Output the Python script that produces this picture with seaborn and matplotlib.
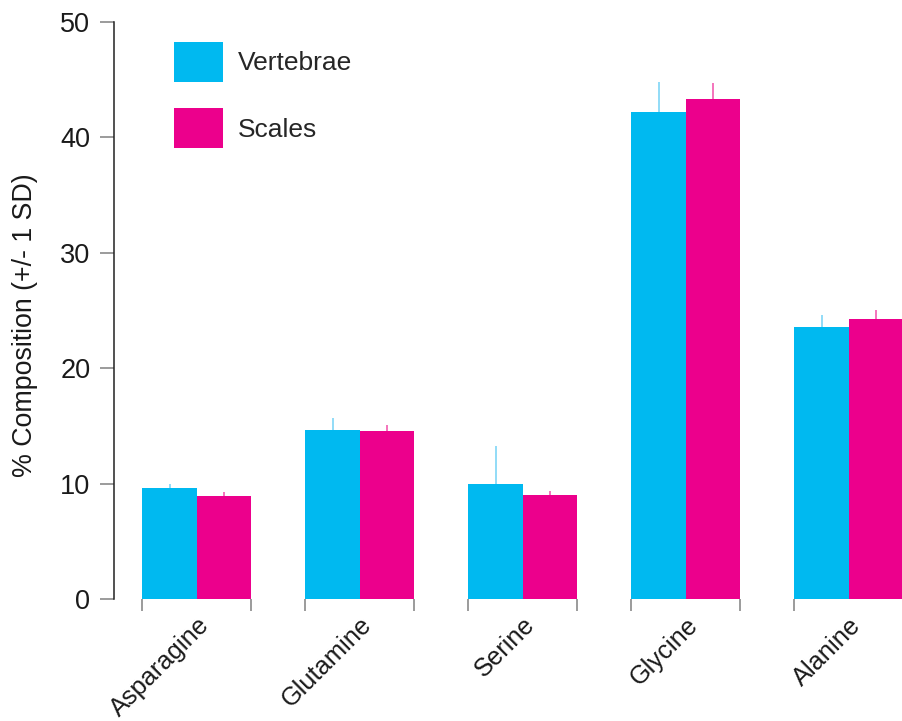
import matplotlib
matplotlib.use("Agg")
import matplotlib.pyplot as plt
from matplotlib.patches import Patch
import seaborn as sns
import pandas as pd

# Mean amino-acid composition (%) and standard deviations
amino_acids = ["Asparagine", "Glutamine", "Serine", "Glycine", "Alanine"]
tissues = ["Vertebrae", "Scales"]
vertebrae_mean = [9.6, 14.65, 9.95, 42.2, 23.6]
vertebrae_sd = [0.35, 1.0, 3.35, 2.6, 1.05]
scales_mean = [8.95, 14.6, 9.05, 43.3, 24.25]
scales_sd = [0.3, 0.45, 0.35, 1.4, 0.8]
y_ticks = [0, 10, 20, 30, 40, 50]

bar_colors = ["#00B9F0", "#EC008C"]
err_colors = ["#7FD6F6", "#F25CB0"]

sns.set_theme(style="white")
plt.rcParams["font.family"] = ["Liberation Sans", "DejaVu Sans"]

df = pd.DataFrame({
    "amino_acid": amino_acids * 2,
    "tissue": [tissues[0]] * len(amino_acids) + [tissues[1]] * len(amino_acids),
    "percent": vertebrae_mean + scales_mean,
})

fig = plt.figure(figsize=(9.03, 7.21), dpi=100)
ax = fig.add_axes([114 / 903, 122 / 721, 789 / 903, 577 / 721])

sns.barplot(
    data=df, x="amino_acid", y="percent", hue="tissue",
    order=amino_acids, hue_order=tissues, palette=bar_colors,
    width=2 / 3, errorbar=None, linewidth=0, saturation=1,
    legend=False, ax=ax,
)

# Upward-only SD whiskers on each bar
for container, sds, col in zip(ax.containers, [vertebrae_sd, scales_sd], err_colors):
    for bar, sd in zip(container, sds):
        xc = bar.get_x() + bar.get_width() / 2
        top = bar.get_height()
        ax.vlines(xc, top, top + sd, color=col, linewidth=1.2, zorder=1)

ax.set_ylim(0, 50)
ax.set_xlim(-0.5076, 4.289)
ax.set_yticks(y_ticks)
ax.set_yticklabels([str(t) for t in y_ticks])

# Spines: only the y axis line is drawn
for side in ["top", "right", "bottom"]:
    ax.spines[side].set_visible(False)
ax.spines["left"].set_color("#222222")
ax.spines["left"].set_linewidth(1.1)

ax.tick_params(axis="y", direction="out", length=10, width=1.1, color="#808080",
               pad=7, labelsize=19.5, labelcolor="#1a1a1a", left=True)

# Group-edge ticks on the x axis, category labels at group centres
half = (2 / 3) / 2
edges = [i + s for i in range(len(amino_acids)) for s in (-half, half)]
ax.set_xticks(edges, minor=True)
ax.tick_params(axis="x", which="minor", direction="out", length=8.6, width=1.1,
               color="#808080", bottom=True)
ax.tick_params(axis="x", which="major", length=0, pad=10, labelsize=18.3,
               labelcolor="#1a1a1a", bottom=True)
for lbl in ax.get_xticklabels():
    lbl.set_rotation(45)
    lbl.set_ha("right")
    lbl.set_va("top")
    lbl.set_rotation_mode("anchor")

ax.set_xlabel("")
ax.set_ylabel("% Composition (+/- 1 SD)", fontsize=19.3, color="#1a1a1a")
ax.yaxis.set_label_coords(-0.0963, 0.475)

handles = [Patch(facecolor=c, edgecolor="none", label=t)
           for c, t in zip(bar_colors, tissues)]
ax.legend(
    handles=handles, loc="upper left", bbox_to_anchor=(174 / 903, 1 - 42 / 721),
    bbox_transform=fig.transFigure, frameon=False,
    fontsize=19, handlelength=1.86, handleheight=1.955, handletextpad=0.57,
    labelspacing=1.0, borderpad=0, borderaxespad=0,
)

fig.savefig("out.png", dpi=100)
